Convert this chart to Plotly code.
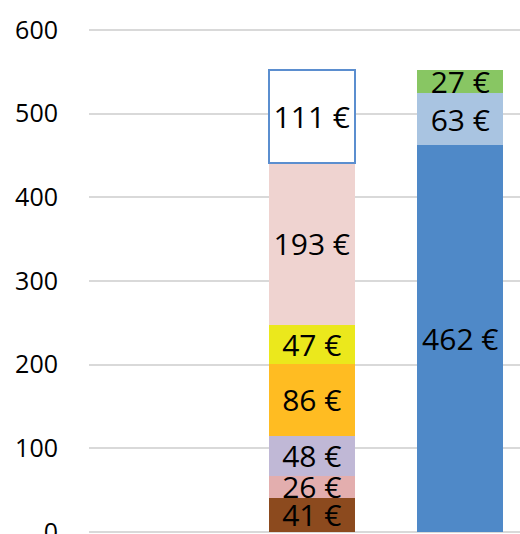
import plotly.graph_objects as go

categories = ["A", "B"]

# Bar A segments (bottom to top)
a_values = [41, 26, 48, 86, 47, 193, 111]
a_colors = ["#8C4A1E", "#E3AEAE", "#C0B8D6", "#FFBC22", "#EBE81C", "#EFD3D0", "#FFFFFF"]
a_lines = [0, 0, 0, 0, 0, 0, 2]

# Bar B segments (bottom to top)
b_values = [462, 63, 27]
b_colors = ["#4F89C8", "#A9C4E1", "#88C663"]

y_ticks = [0, 100, 200, 300, 400, 500, 600]

FONT = "Open Sans"
LABEL_SIZE = 30
fig = go.Figure()

bar_width = 0.58
for v, c, lw in zip(a_values, a_colors, a_lines):
    fig.add_trace(go.Bar(
        x=[categories[0]], y=[v], width=bar_width,
        marker=dict(color=c, line=dict(color="#5B8ECF", width=lw)),
        text=[f"{v} €"], textposition="inside", insidetextanchor="middle",
        constraintext="none", textangle=0,
        insidetextfont=dict(color="black", size=LABEL_SIZE, family=FONT),
        hoverinfo="skip", showlegend=False))

for v, c in zip(b_values, b_colors):
    fig.add_trace(go.Bar(
        x=[categories[1]], y=[v], width=bar_width,
        marker=dict(color=c, line=dict(width=0)),
        text=[f"{v} €"], textposition="inside", insidetextanchor="middle",
        constraintext="none", textangle=0,
        insidetextfont=dict(color="black", size=LABEL_SIZE, family=FONT),
        hoverinfo="skip", showlegend=False))

fig.update_layout(
    barmode="stack",
    width=520, height=534,
    margin=dict(l=89, r=0, t=0, b=0, autoexpand=False),
    paper_bgcolor="white", plot_bgcolor="white",
    font=dict(family=FONT, color="black"),
    uniformtext=dict(mode=False),
    xaxis=dict(type="category", range=[-1.5, 1.402], showticklabels=False,
               showgrid=False, zeroline=False, showline=False, ticks="",
               automargin=False),
    yaxis=dict(range=[-2.39, 635.9], tickvals=y_ticks, ticktext=[str(t) for t in y_ticks],
               showgrid=True, gridcolor="#D9D9D9", gridwidth=2,
               zeroline=False, showline=False, ticks="",
               ticklabelstandoff=30, ticklabeloverflow="allow", automargin=False,
               tickfont=dict(size=25, color="black", family=FONT)),
)

fig.write_html(
    "out.html",
    config={"displayModeBar": False, "staticPlot": True},
    post_script="document.body.style.margin='0';document.body.style.overflow='hidden';",
)
